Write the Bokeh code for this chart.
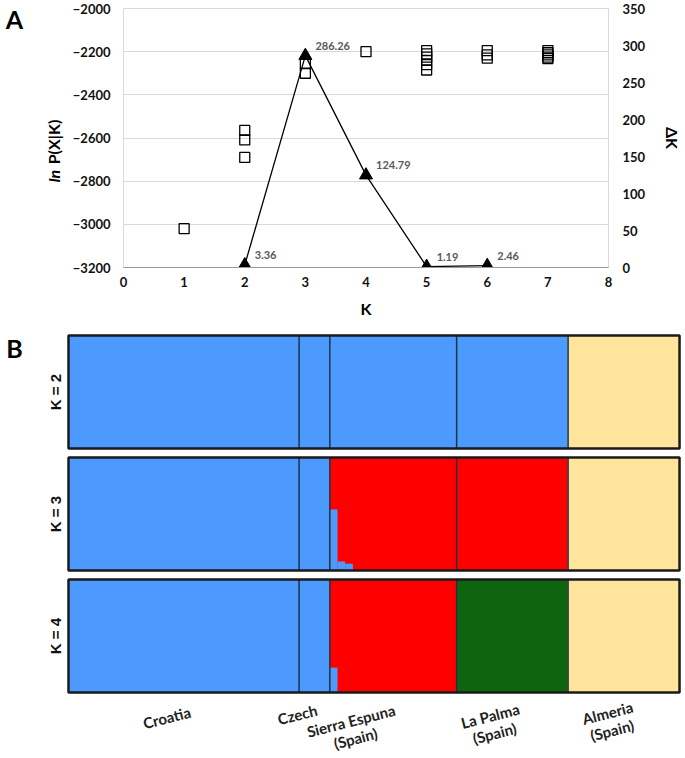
import numpy as np
from bokeh.plotting import figure
from bokeh.models import Range1d, LinearAxis, FixedTicker, Label, ColumnDataSource
from bokeh.embed import file_html
from bokeh.resources import INLINE
from bokeh.core.properties import value

# ---------------- Panel A data ----------------
lnp_k = [1, 2, 2, 2, 3, 3, 4, 5, 5, 5, 5, 5, 5, 6, 6, 6, 7, 7, 7, 7, 7]
lnp_val = [-3020, -2565, -2609, -2690, -2255, -2300, -2200,
           -2195, -2210, -2225, -2240, -2260, -2285,
           -2195, -2215, -2230,
           -2195, -2205, -2215, -2225, -2232]
dk_k = [2, 3, 4, 5, 6]
dk_val = [3.36, 286.26, 124.79, 1.19, 2.46]
x_ticks = [0, 1, 2, 3, 4, 5, 6, 7, 8]
lnp_ticks = [-3200, -3000, -2800, -2600, -2400, -2200, -2000]
dk_ticks = [0, 50, 100, 150, 200, 250, 300, 350]

# ---------------- Panel B data ----------------
pops = ["Croatia", "Czech", "Sierra Espuna\n(Spain)", "La Palma\n(Spain)", "Almeria\n(Spain)"]
pop_sizes = [60, 8, 33, 29, 29]
k_values = [2, 3, 4]
dominant_k2 = [0, 0, 0, 0, 1]
dominant_k3 = [0, 0, 1, 1, 2]
dominant_k4 = [0, 0, 1, 2, 3]
# admixed individuals: K, population index, individual index in population, share of cluster 1 (blue)
admix_k = [3, 3, 3, 3, 3, 3, 4, 4]
admix_pop = [2, 2, 2, 2, 2, 2, 2, 2]
admix_ind = [0, 1, 2, 3, 4, 5, 0, 1]
admix_blue = [0.54, 0.54, 0.08, 0.08, 0.06, 0.06, 0.22, 0.22]

BLUE, RED, GREEN, YELLOW = "#4D9AFF", "#FF0000", "#0F650F", "#FFE49B"
colors_k = {2: [BLUE, YELLOW], 3: [BLUE, RED, YELLOW], 4: [BLUE, RED, GREEN, YELLOW]}
dominant = {2: dominant_k2, 3: dominant_k3, 4: dominant_k4}

FONT = "Lato"
W = 685

# ================= Figure A =================
pA = figure(width=W, height=320, x_range=Range1d(0, 8), y_range=Range1d(-3200, -2000),
            output_backend="svg", toolbar_location=None,
            min_border_left=123, min_border_right=77, min_border_top=8, min_border_bottom=52)
pA.extra_y_ranges = {"dk": Range1d(0, 350)}
pA.outline_line_color = "#d9d9d9"
pA.xgrid.grid_line_color = None
pA.ygrid.grid_line_color = "#d9d9d9"
pA.ygrid.grid_line_width = 1

xax = pA.xaxis[0]
lax = pA.yaxis[0]
rax = LinearAxis(y_range_name="dk")

for ax in (xax, lax, rax):
    ax.major_tick_line_color = None
    ax.minor_tick_line_color = None
    ax.major_tick_out = 0
    ax.major_tick_in = 0
    ax.major_label_text_font = FONT
    ax.major_label_text_font_style = "bold"
    ax.major_label_text_font_size = "13px"
    ax.major_label_text_color = "#111111"
    ax.axis_label_text_font = FONT
    ax.axis_label_text_font_style = "bold"
    ax.axis_label_text_font_size = "16px"
    ax.axis_label_text_color = "#000000"

xax.ticker = FixedTicker(ticks=x_ticks)
xax.axis_line_color = "#9a9a9a"
xax.major_label_standoff = 9
xax.axis_label = "K"
xax.axis_label_standoff = 9

lax.ticker = FixedTicker(ticks=lnp_ticks)
lax.axis_line_color = None
lax.major_label_standoff = 13

rax.ticker = FixedTicker(ticks=dk_ticks)
rax.axis_line_color = None
rax.major_label_standoff = 14
rax.axis_label = "ΔK"
rax.axis_label_standoff = 15
pA.add_layout(rax, "right")

pA.scatter(lnp_k, lnp_val, marker="square", size=10, fill_color=None,
           line_color="black", line_width=1.3)
pA.line(dk_k, dk_val, y_range_name="dk", line_color="black", line_width=1.3)
pA.scatter(dk_k, dk_val, y_range_name="dk", marker="triangle", size=13,
           fill_color="black", line_color="black")
pA.text(dk_k, dk_val, text=[f"{v:.2f}" for v in dk_val], y_range_name="dk",
        x_offset=10, y_offset=-10, text_font=value(FONT), text_font_style="bold",
        text_font_size="11px", text_color="#595959", text_baseline="middle", text_align="left")

# y-axis title ("ln" in italics) and panel letter, kept in the left side panel
mid = (lnp_ticks[0] + lnp_ticks[-1]) / 2
pA.add_layout(Label(x=0, y=mid, text="P(X|K)", angle=np.pi / 2, x_offset=-70, y_offset=-4,
                    text_font=FONT, text_font_style="bold", text_font_size="16px",
                    text_color="black", text_align="center", text_baseline="middle"), "left")
pA.add_layout(Label(x=0, y=mid, text="ln", angle=np.pi / 2, x_offset=-70, y_offset=-38,
                    text_font=FONT, text_font_style="bold italic", text_font_size="16px",
                    text_color="black", text_align="center", text_baseline="middle"), "left")
pA.add_layout(Label(x=0, y=lnp_ticks[-1], text="A", x_offset=-109, y_offset=-10,
                    text_font=FONT, text_font_style="bold", text_font_size="25px",
                    text_color="black", text_align="center", text_baseline="middle"), "left")

# ================= Figure B =================
N = sum(pop_sizes)
px = 3.843          # pixels per individual (layout)
left_pad = 68       # pixels from figure left to panel left
unit = 113          # pixels per panel height
gap = 9 / 113       # gap between panels in panel units
HB = 438
bottom_pad = 66     # pixels below the lowest panel
xs0 = -left_pad / px
ys0 = -bottom_pad / unit
pB = figure(width=W, height=HB, output_backend="svg", toolbar_location=None,
            x_range=Range1d(xs0, xs0 + W / px),
            y_range=Range1d(ys0, ys0 + HB / unit),
            min_border=0)
pB.axis.visible = False
pB.grid.grid_line_color = None
pB.outline_line_color = None

starts = np.concatenate([[0], np.cumsum(pop_sizes)[:-1]])
bg = dict(left=[], right=[], bottom=[], top=[], color=[])
quad = dict(left=[], right=[], bottom=[], top=[], color=[])
panel_base = {}
for row, K in enumerate(k_values):
    base = (len(k_values) - 1 - row) * (1 + gap)
    panel_base[K] = base
    q = np.zeros((N, K))
    dom_ind = np.zeros(N, dtype=int)
    for pi_, (s, n) in enumerate(zip(starts, pop_sizes)):
        q[s:s + n, dominant[K][pi_]] = 1.0
        dom_ind[s:s + n] = dominant[K][pi_]
        # population block in its dominant cluster colour
        bg["left"].append(s); bg["right"].append(s + n)
        bg["bottom"].append(base); bg["top"].append(base + 1)
        bg["color"].append(colors_k[K][dominant[K][pi_]])
    for kk, pp, ii, b in zip(admix_k, admix_pop, admix_ind, admix_blue):
        if kk == K:
            idx = starts[pp] + ii
            q[idx, :] = 0
            q[idx, 0] = b
            q[idx, dominant[K][pp]] = 1 - b
    cum = np.cumsum(q, axis=1)
    for c in range(K):
        bot = cum[:, c] - q[:, c]
        topv = cum[:, c]
        i = 0
        while i < N:
            if q[i, c] <= 0 or dom_ind[i] == c:
                i += 1
                continue
            j = i + 1
            while (j < N and q[j, c] > 0 and dom_ind[j] != c
                   and abs(bot[j] - bot[i]) < 1e-9 and abs(topv[j] - topv[i]) < 1e-9):
                j += 1
            quad["left"].append(i)
            quad["right"].append(j)
            quad["bottom"].append(base + bot[i])
            quad["top"].append(base + topv[i])
            quad["color"].append(colors_k[K][c])
            i = j
pB.quad(source=ColumnDataSource(bg), left="left", right="right", bottom="bottom", top="top",
        fill_color="color", line_color="color", line_width=0.5)
pB.quad(source=ColumnDataSource(quad), left="left", right="right", bottom="bottom", top="top",
        fill_color="color", line_color=None)

# population boundaries
bounds = list(np.cumsum(pop_sizes)[:-1])
seg = dict(x0=[], y0=[], x1=[], y1=[])
for K in k_values:
    for bnd in bounds:
        seg["x0"].append(bnd); seg["x1"].append(bnd)
        seg["y0"].append(panel_base[K]); seg["y1"].append(panel_base[K] + 1)
pB.segment(source=ColumnDataSource(seg), x0="x0", y0="y0", x1="x1", y1="y1",
           line_color="#1F3347", line_width=1.5)

# panel frames
pB.quad(left=[0] * 3, right=[N] * 3, bottom=[panel_base[K] for K in k_values],
        top=[panel_base[K] + 1 for K in k_values], fill_color=None,
        line_color="#1a1a1a", line_width=2.5)

# K labels
pB.text([0] * 3, [panel_base[K] + 0.5 for K in k_values], text=[f"K = {K}" for K in k_values],
        angle=np.pi / 2, x_offset=-13, text_font=value("Liberation Sans"), text_font_style="bold",
        text_font_size="15px", text_align="center", text_baseline="middle", text_color="#111111")

# population labels
centers = [s + n / 2 for s, n in zip(starts, pop_sizes)]
lab_dx = [-17, -17, -40, -20, -14]
lab_dy = [25, 22, 37, 32, 29]
pB.text(centers, [0] * len(pops), text=pops, angle=0.25, x_offset=lab_dx, y_offset=lab_dy,
        text_font=value(FONT), text_font_style="bold", text_font_size="15px",
        text_align="center", text_baseline="middle", text_color="#222222", text_line_height=1.0)

# B label
pB.text([0], [panel_base[2] + 1], text=["B"], x_offset=-54, y_offset=12,
        text_font=value(FONT), text_font_style="bold", text_font_size="25px",
        text_align="center", text_baseline="middle", text_color="black")

open("out.html", "w").write(file_html([pA, pB], INLINE))
